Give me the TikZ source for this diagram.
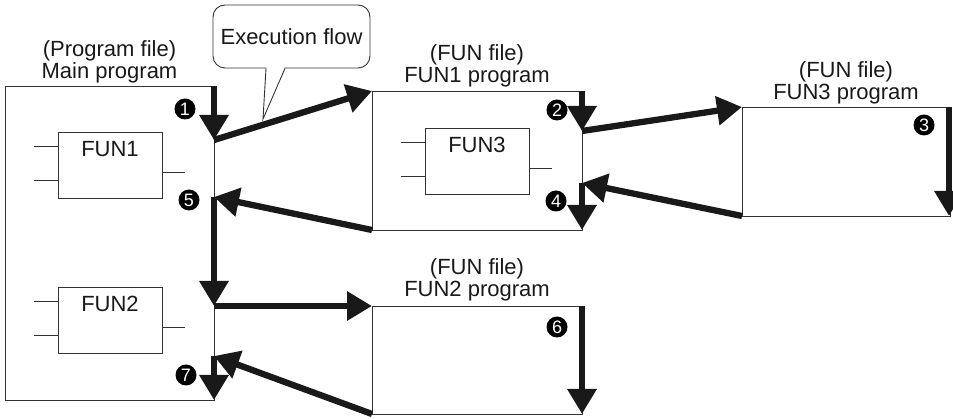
\documentclass[tikz,border=0pt]{standalone}
\usepackage{fontspec}
\setmainfont{Liberation Sans}
\usetikzlibrary{arrows.meta,positioning}

\begin{document}
\begin{tikzpicture}[x=1pt,y=-1pt,
	prog/.style={draw=black!80,line width=0.9pt,inner sep=0pt,outer sep=0pt,anchor=north west},
	title/.style={align=center,inner sep=0pt,text=black!90,font=\fontsize{22}{22}\selectfont},
	block/.style={prog,minimum width=104pt,minimum height=66pt},
	pin/.style={draw=black!80,line width=0.9pt},
	num/.style={circle,fill=black,text=white,inner sep=0pt,minimum size=21pt,font=\fontsize{18}{18}\selectfont},
	flow/.style={line width=6.3pt,black!90,-{Triangle[length=25pt,width=28pt]}}]

	\useasboundingbox (0,0) rectangle (953,419);

	%program boxes
	\node[prog,minimum width=209pt,minimum height=314pt] (main) at (5,86) {};
	\node[prog,minimum width=210pt,minimum height=139pt] (fun1prog) at (372,91) {};
	\node[prog,minimum width=208pt,minimum height=109pt] (fun3prog) at (742,107) {};
	\node[prog,minimum width=210pt,minimum height=108pt] (fun2prog) at (372,306) {};

	\node[title,above=3pt of main] (mainlbl) {(Program file)\\Main program};
	\node[title,above=4pt of fun1prog] (fun1lbl) {(FUN file)\\FUN1 program};
	\node[title,above=3pt of fun3prog] (fun3lbl) {(FUN file)\\FUN3 program};
	\node[title,above=5pt of fun2prog] (fun2lbl) {(FUN file)\\FUN2 program};

	%function blocks
	\node[block] (fun1) at (58,132) {};
	\node[block] (fun3) at (425,128) {};
	\node[block] (fun2) at (58,287) {};
	\node[title,below=9pt of fun1.north] (fun1txt) {FUN1};
	\node[title,below=9pt of fun3.north] (fun3txt) {FUN3};
	\node[title,below=9pt of fun2.north] (fun2txt) {FUN2};
	\foreach \b in {fun1,fun2,fun3} {
		\draw[pin] ([yshift=-14pt]\b.north west) -- ++(-24,0);
		\draw[pin] ([yshift=-48pt]\b.north west) -- ++(-24,0);
		\draw[pin] ([yshift=-40pt]\b.north east) -- ++(23,0);
	}

	%callout
	\node[title,draw=black!80,line width=0.9pt,rounded corners=12pt,minimum width=157pt,minimum height=63pt] (flowbox) at (291.5,36.5) {Execution flow};
	\coordinate (tip) at (263,119);
	\fill[white] ([xshift=-25pt,yshift=2pt]flowbox.south) -- (tip) -- ([xshift=-7pt,yshift=2pt]flowbox.south) -- cycle;
	\draw[pin] ([xshift=-25.5pt]flowbox.south) -- (tip) -- ([xshift=-6.5pt]flowbox.south);

	%turning points
	\coordinate (m1) at (214,140);
	\coordinate (m5) at (214,197);
	\coordinate (m6) at (214,306);
	\coordinate (m7) at (214,356);
	\coordinate (f2) at (582,131);
	\coordinate (f4) at (582,183);

	%flow arrows
	\draw[flow] (main.north east) -- (m1);
	\draw[flow] (m1) -- (fun1prog.north west);
	\draw[flow] (fun1prog.north east) -- (f2);
	\draw[flow] (f2) -- (fun3prog.north west);
	\draw[flow] ([xshift=-1pt]fun3prog.north east) -- ([xshift=-1pt]fun3prog.south east);
	\draw[flow] (fun3prog.south west) -- (f4);
	\draw[flow] (f4) -- (fun1prog.south east);
	\draw[flow] (fun1prog.south west) -- (m5);
	\draw[flow] (m5) -- (m6);
	\draw[flow] (m6) -- (fun2prog.north west);
	\draw[flow] (fun2prog.north east) -- (fun2prog.south east);
	\draw[flow] (fun2prog.south west) -- (m7);
	\draw[flow] (m7) -- (main.south east);

	%step numbers
	\node[num] (n1) at (185,109) {1};
	\node[num] (n2) at (557,110) {2};
	\node[num] (n3) at (924,125) {3};
	\node[num] (n4) at (556,201) {4};
	\node[num] (n5) at (189,200) {5};
	\node[num] (n6) at (557,327) {6};
	\node[num] (n7) at (186,375) {7};

\end{tikzpicture}
\end{document}
